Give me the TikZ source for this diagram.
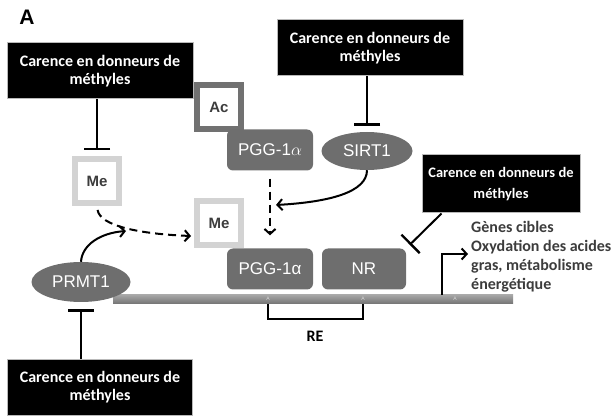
\documentclass[tikz,border=0pt]{standalone}
\usepackage{fontspec}
\setmainfont{Carlito}
\newfontfamily\arialfont{Liberation Sans}
\usetikzlibrary{arrows.meta, calc, positioning, shapes.geometric}
\definecolor{protgray}{HTML}{6E6E6E}
\definecolor{megray}{HTML}{D3D3D3}
\definecolor{acgray}{HTML}{717171}
\definecolor{txtgray}{HTML}{3C3C3C}
\tikzset{
  >={Straight Barb[length=5pt,width=11pt]}, % open arrow heads
  carence/.style={fill=black, draw=gray!55, line width=1pt, text=white, align=center,
    minimum height=56pt, font=\bfseries\fontsize{16}{18}\selectfont},
  modbox/.style={draw=megray, line width=6pt, fill=white, minimum width=44pt,
    minimum height=44pt, text=txtgray, font=\arialfont\bfseries\fontsize{15}{18}\selectfont},
  prot/.style={fill=protgray, rounded corners=6pt, text=white, minimum width=86pt,
    minimum height=41pt, font=\arialfont\fontsize{17}{20}\selectfont},
  enz/.style={ellipse, fill=protgray, text=white, inner sep=0pt,
    font=\arialfont\fontsize{17}{20}\selectfont},
  inhib/.style={-{Bar[width=26pt,line width=2.4pt]}, line width=2pt}, % inhibition
  act/.style={->, line width=2pt},
}

\begin{document}
\begin{tikzpicture}[x=1pt, y=-1pt]
  \useasboundingbox (0,0) rectangle (614,417);
  \node[font=\arialfont\bfseries\fontsize{21}{24}\selectfont] (lab) at (27,17) {A};

  % methyl donor deficiency boxes
  \node[carence, minimum width=186pt] (car1) at (100,71) {Carence en donneurs de\\méthyles};
  \node[carence, minimum width=186pt] (car2) at (370,48) {Carence en donneurs de\\méthyles};
  \node[carence, minimum width=158pt, minimum height=58pt,
    font=\bfseries\fontsize{14.5}{21}\selectfont] (car3) at (501,184) {Carence en donneurs de\\méthyles};
  \node[carence, minimum width=185pt] (car4) at (100,387) {Carence en donneurs de\\méthyles};

  % DNA
  \node[top color=black!35, bottom color=black!55, minimum width=400pt,
    minimum height=9pt, inner sep=0pt] (dna) at (313,299.5) {};
  \foreach \x/\n in {268/a1, 363/a2, 455/a3}
    \node[font=\arialfont\fontsize{5}{6}\selectfont, text=black!15, inner sep=0pt] (\n) at (\x,299) {A};

  % proteins
  \node[modbox] (me1) at (97,181) {Me};
  \node[modbox] (me2) at (219,223) {Me};
  \node[modbox, draw=acgray] (ac) at (219,107) {Ac};
  \node[prot] (pgg1) at (270,150) {PGG-1$\alpha$};
  \node[enz, minimum width=91pt, minimum height=38pt] (sirt) at (367,151) {SIRT1};
  \node[enz, minimum width=99pt, minimum height=40pt] (prmt) at (81,282) {PRMT1};
  \node[prot] (pgg2) at (270,269) {PGG-1α};
  \node[prot, minimum width=84pt] (nr) at (364,269) {NR};

  \node[anchor=west, align=left, text=txtgray, inner sep=0pt,
    font=\bfseries\fontsize{16}{19}\selectfont] (genes) at (471,257)
    {Gènes cibles\\Oxydation des acides\\gras, métabolisme\\énergétique};

  % inhibitions
  \draw[inhib, shorten >=6pt] (car1.south -| me1) -- (me1.north);
  \draw[inhib, shorten >=6pt] (car2.south -| sirt) -- (sirt.north);
  \draw[inhib, shorten >=5pt] ($(car3.south west)+(20,0)$) -- (nr.north east);
  \draw[inhib, shorten >=7pt] (car4.north -| prmt) -- (prmt.south);

  % activations
  \coordinate (meth) at (126,231);
  \coordinate (deac) at (276,205);
  \coordinate (tss) at (442,254);
  \coordinate (tssend) at (468,254);
  \draw[act, dash pattern=on 8pt off 5pt, shorten <=4pt]
    (me1.south) .. controls (100,226) and (140,234) .. ($(me2.west)+(-3,13)$);
  \draw[act] (prmt.north) .. controls (82,245) and (100,233) .. (meth);
  \draw[act] (sirt.south) .. controls (367,192) and (330,202) .. (deac);
  \draw[act, dash pattern=on 8pt off 5pt, shorten <=8pt, shorten >=13pt] (pgg1) -- (pgg2);
  \draw[act] (dna.north -| tss) |- (tssend);

  % response element
  \draw[line width=2pt] (dna.south -| a1) -- ++(0,15) -| (dna.south -| a2);
  \node[font=\bfseries\fontsize{16}{18}\selectfont] (re) at (315,336) {RE};
\end{tikzpicture}
\end{document}
